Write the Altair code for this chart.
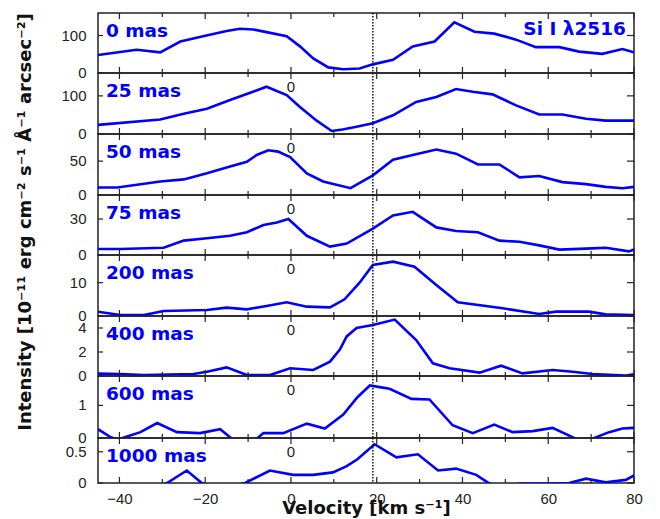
import altair as alt
import pandas as pd

# Si I 2516 line profiles at increasing offsets along the slit
LABELS = ["0 mas", "25 mas", "50 mas", "75 mas", "200 mas", "400 mas", "600 mas", "1000 mas"]
LINE_ID = "Si I λ2516"

vel_0 = [-45, -36, -30.5, -25.8, -20.5, -15, -11.9, -8.8, -5.7, -1, 2.1, 5.2, 8.7, 12.2, 16,
         19.1, 23.8, 28.4, 33.5, 38.1, 42.8, 47.4, 52.5, 57.1, 62.6, 67.2, 72.6, 77.3, 80]
int_0 = [48, 62, 55, 84, 98, 112, 118, 116, 109, 98, 71, 39, 15, 10, 12,
         23, 35, 71, 84, 135, 110, 105, 89, 69, 69, 57, 51, 64, 55]

vel_25 = [-45, -30.5, -25, -19.6, -14.2, -9.5, -5.7, -1, 2.1, 6, 9.5, 12, 15.3,
          19.1, 23.8, 29.2, 33.9, 38.5, 42.4, 47, 52.5, 57.9, 63.3, 68.8, 73.4, 80]
int_25 = [24, 38, 53, 66, 89, 108, 124, 102, 71, 35, 8, 12, 19,
          28, 49, 84, 97, 118, 111, 104, 75, 51, 51, 40, 35, 35]

vel_50 = [-45, -40.5, -30.5, -25, -19.6, -14.2, -10.3, -8, -5.3, -3, -0.2, 3.7, 7.5, 10.6, 13.9,
          19.1, 23.8, 28.4, 33.9, 38.5, 43.6, 48.6, 53.3, 57.9, 63.3, 68.8, 73.4, 77.3, 80]
int_50 = [11, 11, 20, 23, 32, 42, 49, 59, 66, 64, 56, 32, 20, 15, 10,
          29, 52, 59, 67, 61, 45, 45, 26, 28, 19, 16, 12, 10, 12]

vel_75 = [-45, -39.8, -29.7, -25, -19.6, -14.2, -10.3, -6.4, -3.3, -0.6, 3.7, 9.1, 13,
          19.1, 23.8, 28.4, 33.9, 38.5, 43.6, 48.6, 53.3, 57.9, 62.6, 70.3, 73.4, 78.8, 80]
int_75 = [5, 5, 6, 12, 14, 16, 19, 25, 27, 30, 16, 7, 9.5,
          22, 33, 36, 23, 20, 19, 12, 11, 8, 4.5, 5.5, 6, 3, 4.5]

vel_200 = [-45, -39.8, -34.3, -29.7, -19.6, -15, -10.3, -5.7, -1, 3.7, 9.1, 12.5, 16,
           19.1, 23.8, 28.8, 33.9, 38.9, 49.4, 57.9, 61.8, 69.5, 73.4, 80]
int_200 = [1.3, 0.3, 0.3, 1.5, 1.8, 2.5, 2.0, 3.0, 4.1, 2.8, 2.6, 5.0, 10.0,
           15.3, 16.3, 14.8, 9.3, 4.1, 2.3, 0.6, 1.3, 1.3, 0.5, 0.3]

vel_400 = [-45, -39.8, -34.3, -22.7, -19.6, -15, -10.3, -4.9, -0.2, 5.2, 9.1, 11.4, 13, 15.3,
           19.1, 24.2, 29.2, 33.1, 37, 44, 49, 54, 61, 65.7, 70.3, 78.1, 80]
int_400 = [0.2, 0.17, 0.08, 0.17, 0.36, 0.72, 0.08, 0.08, 0.64, 0.5, 1.2, 2.2, 3.3, 4.0,
           4.25, 4.7, 3.0, 1.06, 0.64, 0.28, 0.86, 0.22, 0.5, 0.36, 0.17, 0.03, 0.14]

vel_600 = [-45, -42.1, -40.5, -39.3, -35.1, -31.2, -26.6, -21.2, -16.5, -13.8, -11, -8, -6.4, -1.8,
           3.7, 7.9, 12.2, 15.5, 18.4, 20.7, 23, 28.1, 32.3, 37.7, 42.4, 47.4, 51.7, 56.4, 61,
           66.4, 68.5, 70.3, 74.2, 77.3, 80]
int_600 = [0.27, 0.03, -0.05, 0.0, 0.18, 0.46, 0.18, 0.15, 0.27, -0.02, -0.1, -0.02, 0.15, 0.15,
           0.44, 0.29, 0.72, 1.25, 1.61, 1.56, 1.51, 1.2, 1.18, 0.39, 0.15, 0.41, 0.18, 0.21, 0.31,
           -0.02, -0.1, -0.02, 0.18, 0.29, 0.31]

vel_1000 = [-45, -33, -28.9, -24.3, -20.8, -16, -10.7, -4.9, 0.5, 5.2, 9.8, 13, 15.5,
            19.5, 24.6, 29.6, 34.3, 38.5, 43.2, 46.3, 50, 53.3, 59.5, 64.9, 68.8, 73.4, 78.1, 80]
int_1000 = [-0.1, -0.1, 0.0, 0.2, 0.0, -0.1, 0.0, 0.2, 0.13, 0.13, 0.17, 0.27, 0.38,
            0.62, 0.41, 0.46, 0.2, 0.23, 0.13, -0.01, -0.08, -0.01, -0.01, 0.0, 0.07, 0.01, 0.05, 0.12]

VEL = [vel_0, vel_25, vel_50, vel_75, vel_200, vel_400, vel_600, vel_1000]
INT = [int_0, int_25, int_50, int_75, int_200, int_400, int_600, int_1000]

# intensity range and labelled ticks of each panel
Y_MAX = [160, 160, 90, 50, 18.3, 5, 1.9, 0.72]
Y_TICKS = [[0, 100], [0, 100], [0, 50], [0, 30], [0, 10], [0, 2, 4], [0, 1], [0, 0.5]]

X_DOMAIN = [-45, 80]
X_MAJOR = [-40, -20, 0, 20, 40, 60, 80]
X_MINOR = [-30, -10, 10, 30, 50, 70]
V_SYS = 19.1  # dotted reference velocity

# layout
W = 536
HEIGHTS = [60, 61, 61, 60, 61, 60, 62, 45]
BLUE = "#0000ff"
INK = "#222222"
NUM_FONT = "Liberation Sans"
TXT_FONT = "DejaVu Sans"
Y_TITLE = "Intensity  [10⁻¹¹ erg cm⁻² s⁻¹ Å⁻¹ arcsec⁻²]"
X_TITLE = "Velocity [km s⁻¹]"


def panel(k):
    h = HEIGHTS[k]
    last = k == len(LABELS) - 1
    xscale = alt.Scale(domain=X_DOMAIN, nice=False, zero=False)
    yscale = alt.Scale(domain=[0, Y_MAX[k]], nice=False, zero=False)

    if last:
        x_enc = alt.X("v:Q", scale=xscale, title=X_TITLE,
                      axis=alt.Axis(values=X_MAJOR, ticks=False, domain=False, grid=False,
                                    labelFlush=False, labelOverlap=False, labelPadding=8,
                                    format="~r", titleY=30, titleBaseline="alphabetic"))
    else:
        x_enc = alt.X("v:Q", scale=xscale, axis=None)
    y_enc = alt.Y("I:Q", scale=yscale, axis=None)

    prof = pd.DataFrame({"v": VEL[k], "I": INT[k]})
    line = alt.Chart(prof).mark_line(clip=True, color=BLUE, strokeWidth=2.6).encode(x=x_enc, y=y_enc)

    layers = [line]

    major = pd.DataFrame({"v": X_MAJOR})
    minor = pd.DataFrame({"v": X_MINOR})
    for df, ln in ((major, 6), (minor, 4)):
        layers.append(alt.Chart(df).mark_rule(color=INK, strokeWidth=1.2).encode(
            x="v:Q", y=alt.value(0), y2=alt.value(ln)))
        layers.append(alt.Chart(df).mark_rule(color=INK, strokeWidth=1.2).encode(
            x="v:Q", y=alt.value(h), y2=alt.value(h - ln)))

    # intensity ticks on both sides, labels on the left
    yt = pd.DataFrame({"I": Y_TICKS[k], "lab": [f"{t:g}" for t in Y_TICKS[k]]})
    layers.append(alt.Chart(yt).mark_rule(color=INK, strokeWidth=1.2).encode(
        y="I:Q", x=alt.value(0), x2=alt.value(5)))
    layers.append(alt.Chart(yt).mark_rule(color=INK, strokeWidth=1.2).encode(
        y="I:Q", x=alt.value(W), x2=alt.value(W - 7)))
    layers.append(alt.Chart(yt).mark_text(
        align="right", baseline="middle", font=NUM_FONT, fontSize=15, color=INK).encode(
        y="I:Q", x=alt.value(-11.5), text="lab:N"))

    layers.append(alt.Chart(pd.DataFrame({"v": [V_SYS]})).mark_rule(
        color="#111", strokeWidth=1.5, strokeDash=[1.5, 1.5]).encode(
        x="v:Q", y=alt.value(0), y2=alt.value(h)))

    layers.append(alt.Chart(pd.DataFrame({"name": [LABELS[k]]})).mark_text(
        align="left", baseline="middle", font=TXT_FONT, fontWeight="bold",
        fontSize=18.5, color=BLUE).encode(
        x=alt.value(8), y=alt.value(18), text="name:N"))

    if k == 0:
        layers.append(alt.Chart(pd.DataFrame({"name": [LINE_ID]})).mark_text(
            align="right", baseline="middle", font=TXT_FONT, fontWeight="bold",
            fontSize=18.5, color=BLUE).encode(
            x=alt.value(W - 8), y=alt.value(16), text="name:N"))
    else:
        layers.append(alt.Chart(pd.DataFrame({"v": [0], "t": ["0"]})).mark_text(
            align="center", baseline="middle", font=NUM_FONT, fontSize=15,
            color=INK).encode(x="v:Q", y=alt.value(14), text="t:N"))

    if k == 3:
        layers.append(alt.Chart(pd.DataFrame({"t": [Y_TITLE]})).mark_text(
            align="center", baseline="middle", angle=270, font=TXT_FONT,
            fontWeight="bold", fontSize=18, color="#111").encode(
            x=alt.value(-72), y=alt.value(27), text="t:N"))

    return alt.layer(*layers).properties(width=W, height=h)


chart = alt.vconcat(*[panel(k) for k in range(len(LABELS))], spacing=0, bounds="flush").properties(
    padding={"left": 16, "top": 9, "right": 5, "bottom": 0},
    background="white",
).configure_view(
    stroke=INK, strokeWidth=1.5
).configure_axis(
    labelFont=NUM_FONT, labelFontSize=15, labelColor=INK,
    titleFont=TXT_FONT, titleFontSize=18, titleFontWeight="bold", titleColor="#111",
)

chart.save("out.html", embed_options={"renderer": "svg", "actions": False})
